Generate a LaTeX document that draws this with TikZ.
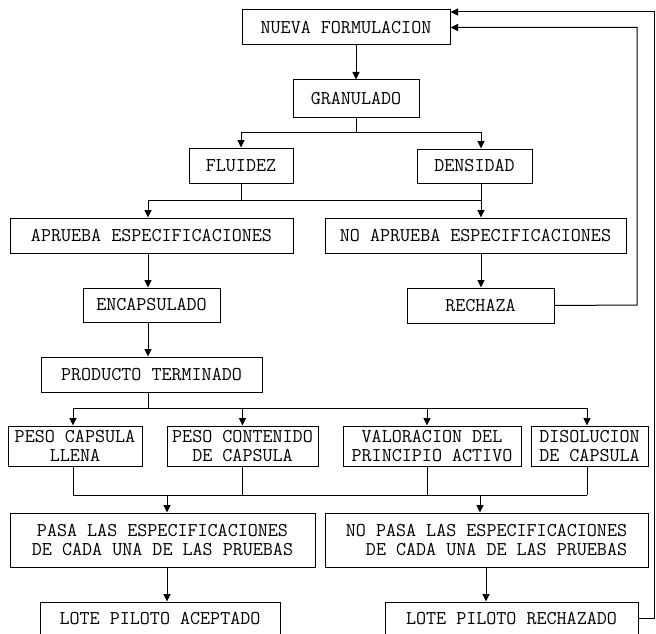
\documentclass[tikz,border=0pt]{standalone}
\usepackage{fontspec}
\usetikzlibrary{arrows.meta}
\tikzset{
  box/.style={draw, line width=1pt, inner sep=0pt, align=center,
    font=\ttfamily\fontsize{19.5}{19.5}\selectfont},
  conn/.style={line width=1pt},
  arr/.style={line width=1pt, -{Triangle[length=7.5pt,width=7pt]}}
}
\begin{document}
\begin{tikzpicture}[x=1pt,y=-1pt]
\path[use as bounding box] (0,0) rectangle (656,634);
\clip (0,0) rectangle (656,634);
% boxes
\node[box, minimum width=208pt, minimum height=35pt] (nf) at (346,27.5) {NUEVA FORMULACION};
\node[box, minimum width=126pt, minimum height=37pt] (gran) at (356,98.5) {GRANULADO};
\node[box, minimum width=104pt, minimum height=35pt] (flu) at (241,165.5) {FLUIDEZ};
\node[box, minimum width=115pt, minimum height=34pt] (den) at (474.5,166) {DENSIDAD};
\node[box, minimum width=283pt, minimum height=35pt] (apr) at (151.5,235.5) {APRUEBA ESPECIFICACIONES};
\node[box, minimum width=301pt, minimum height=35pt] (noapr) at (475.5,235.5) {NO APRUEBA ESPECIFICACIONES};
\node[box, minimum width=137pt, minimum height=34pt] (enc) at (151.5,305) {ENCAPSULADO};
\node[box, minimum width=147pt, minimum height=35pt] (rech) at (480.5,305.5) {RECHAZA};
\node[box, minimum width=221pt, minimum height=35pt] (prod) at (151.5,374.5) {PRODUCTO TERMINADO};
\node[box, minimum width=134pt, minimum height=40pt] (peso1) at (75,446) {PESO CAPSULA\\LLENA};
\node[box, minimum width=151pt, minimum height=40pt] (peso2) at (242.5,446) {PESO CONTENIDO\\DE CAPSULA};
\node[box, minimum width=178pt, minimum height=40pt] (valor) at (432,446) {VALORACION DEL\\PRINCIPIO ACTIVO};
\node[box, minimum width=117pt, minimum height=40pt] (disol) at (589.5,446) {DISOLUCION\\DE CAPSULA};
\node[box, minimum width=305pt, minimum height=54pt] (pasa) at (162.5,540) {PASA LAS ESPECIFICACIONES\\DE CADA UNA DE LAS PRUEBAS};
\node[box, minimum width=323pt, minimum height=54pt, align=right] (nopasa) at (486.5,540) {NO PASA LAS ESPECIFICACIONES\\DE CADA UNA DE LAS PRUEBAS};
\node[box, minimum width=240pt, minimum height=33pt] (lotea) at (160,618.5) {LOTE PILOTO ACEPTADO};
\node[box, minimum width=253pt, minimum height=33pt] (loter) at (511.5,618.5) {LOTE PILOTO RECHAZADO};
% junctions
\coordinate (t1) at (356,132);
\coordinate (t2) at (148,200);
\coordinate (t3) at (481,200);
\coordinate (r1) at (637,305);
\coordinate (t4) at (148,408);
\coordinate (t4a) at (73,408);
\coordinate (t4b) at (587,408);
\coordinate (b1) at (73,495);
\coordinate (b2) at (587,495);
\coordinate (b3) at (167,495);
\coordinate (b4) at (480,495);
\coordinate (b5) at (486,567);
\coordinate (l1) at (654,618.5);
\coordinate (l2) at (654,12);
% connectors
\draw[arr] (nf.south -| gran.north) -- (gran.north);
\draw[conn] (gran.south) -- (t1);
\draw[arr] (t1) -| (flu.north);
\draw[arr] (t1) -| (t3 |- den.north);
\draw[conn] (flu.south) -- (flu.south |- t2);
\draw[conn] (t2) -- (t3);
\draw[arr] (t3 |- den.south) -- (t3 |- noapr.north);
\draw[arr] (t2) -- (t2 |- apr.north);
\draw[arr] (t2 |- apr.south) -- (t2 |- enc.north);
\draw[arr] (t3 |- noapr.south) -- (t3 |- rech.north);
\draw[arr] (rech.east) -- (r1) |- (nf.east);
\draw[arr] (t2 |- enc.south) -- (t2 |- prod.north);
\draw[conn] (t2 |- prod.south) -- (t4);
\draw[conn] (t4a) -- (t4b);
\draw[arr] (t4a) -- (t4a |- peso1.north);
\draw[arr] (t4a -| peso2.north) -- (peso2.north);
\draw[arr] ([xshift=-5pt]t4a -| valor.north) -- ([xshift=-5pt]valor.north);
\draw[arr] (t4b) -- (t4b |- disol.north);
\draw[conn] (b1 |- peso1.south) -- (b1);
\draw[conn] (peso2.south) -- (peso2.south |- b1);
\draw[conn] ([xshift=-5pt]valor.south) -- ([xshift=-5pt]valor.south |- b1);
\draw[conn] (b2 |- disol.south) -- (b2);
\draw[conn] (b1) -- (b2);
\draw[arr] (b3) -- (b3 |- pasa.north);
\draw[arr] (b4) -- (b4 |- nopasa.north);
\draw[arr] (b3 |- pasa.south) -- (b3 |- lotea.north);
\draw[arr] (b5) -- (b5 |- loter.north);
\draw[arr] (loter.east) -- (l1) -- (l2) -- (nf.east |- l2);
\end{tikzpicture}
\end{document}
